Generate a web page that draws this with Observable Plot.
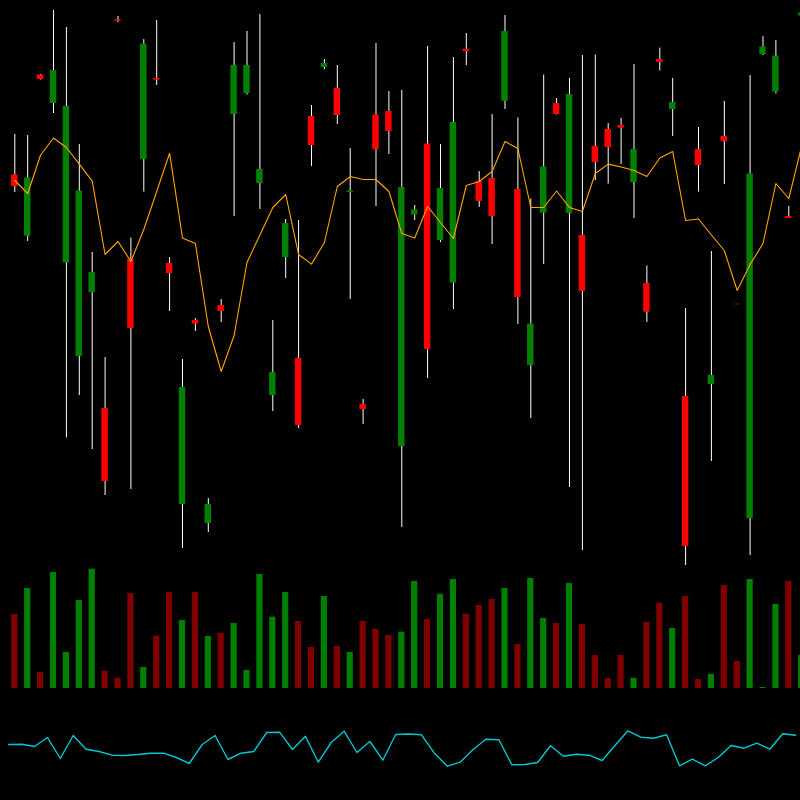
<!DOCTYPE html>
<html>
<head>
<meta charset="utf-8">
<script src="https://cdn.jsdelivr.net/npm/d3@7"></script>
<script src="https://cdn.jsdelivr.net/npm/@observablehq/plot@0.6"></script>
<style>
  html, body { margin: 0; padding: 0; background: #000; }
  #chart { width: 800px; height: 800px; background: #000; overflow: hidden; }
  #chart svg { display: block; }
</style>
</head>
<body>
<div id="chart"></div>
<script>
// ---- data (no axes shown; units are relative) ----
const openP  = [425.5,364.4,525.5,497,337.5,244,308,192,581,341,441,522.2,337,96,280,77,295,486,507,417,205,343,242,484,533,512,408,196,485.5,489,154,385.5,456.4,360,317.5,551.3,419,422,499.3,411,235,387.3,497,387,365,454,471,475,418,317,541,491,204,451,216,464,296.2,82,546,508.4,384,584.5];
const highP  = [466,465,526,590,573,456,348,243,584,362.5,561,580,343,241,282,102,301,558,569,586,280,381,380,495,541,535,452,201,557,509,510,395,554,456,543,567,429,486,585,482.5,401.5,525.5,502,522,545,545.5,477,482,536,334.5,552.4,522,292,473,349,499,296.2,525,564,560,394,589];
const lowP   = [408,359,520.5,487,162.5,205,151,105,578,111,408.4,515,289,52,269,68,278,384,505.5,391,189,322,172,434,531,476,301,176,394,446,73,380,222,358,291,535,393,356,491,276,182,336,485.5,113,50,420,416.4,436,382,278,529.5,464,35,408.4,139,416,295.8,45,545,506.5,382,583];
const closeP = [414,422.5,521,530,494,409.5,328,119,579.5,272,556.4,520.4,327,213,276.4,96,289,535,535,431,228,377,175,455,537,485,409.5,191,451,469,413,390.5,251,412,478,549,399,384,569,303,276.4,433.5,486,506,309,438,453,472.4,451,288.4,538,498,54,435,225,459,295.8,426.5,553.5,544.4,382,587.5];
const volume = [74,100,16,116,36,88,119.3,17.3,10.3,95,21,52.3,96,68,96,52,55.3,65,18,114,71.3,96,67,41,92,42,36,67,59,53,56.3,107,69,94,109,74.3,83,89,100,44,110,70,65,105,64,33,10,33,10.3,66.3,85.3,60,92,9,14,103,27,109,1,84,107,33];
const maLine = [420,407,445.5,462.5,453,436.4,419.3,346,359,339,371,409,447.3,362.5,357,274,229,265,338,365.5,393,406,346,336.4,358,414,424,421,421,409,367,362.5,394,378,362,415,419,429,459,452,393,393,409.5,393,389,427,436.4,433.5,430,424,442.5,449,380,381.5,365.5,350,310,336,357,417,402,454.5];
const oscLine = [36,36.3,34,43,22,45,31.3,29,25.3,25,26,27.3,27.3,23,17,36,45,21,27.3,29,48,48.3,31,44.3,18.3,38,49.3,28,39,20.3,46,46.5,45.7,27.3,14.3,18.3,31,41.3,40.7,15.7,16,18,34.7,24.3,26.3,25.3,20,35,49.7,43.3,42.3,45.7,14.7,21.3,14.7,23,35,32.3,37.3,31.3,46.7,45.3];

const bars = openP.map((o, i) => ({
  i, open: o, high: highP[i], low: lowP[i], close: closeP[i],
  vol: volume[i], ma: maLine[i], osc: oscLine[i], up: closeP[i] >= o
}));

const xMain = {domain: [-1.1085, 60.907], axis: null};
const xOsc  = {domain: [-0.6357, 61.380], axis: null};

const candle = Plot.plot({
  width: 800, height: 566,
  marginTop: 0, marginBottom: 0, marginLeft: 0, marginRight: 0,
  style: {background: "#000"},
  x: xMain,
  y: {domain: [34, 600], axis: null},
  marks: [
    Plot.ruleX(bars, {x: "i", y1: "low", y2: "high", stroke: "#ffffff", strokeWidth: 1}),
    Plot.rect(bars, {
      x1: d => d.i - 0.25, x2: d => d.i + 0.25,
      y1: "open", y2: "close",
      fill: d => d.up ? "#008000" : "#ff0000"
    }),
    Plot.line(bars, {x: "i", y: "ma", stroke: "#ffa500", strokeWidth: 1.1})
  ]
});

const vol = Plot.plot({
  width: 800, height: 124,
  marginTop: 0, marginBottom: 2, marginLeft: 0, marginRight: 0,
  style: {background: "#000"},
  x: xMain,
  y: {domain: [0, 122], axis: null},
  marks: [
    Plot.rect(bars, {
      x1: d => d.i - 0.24, x2: d => d.i + 0.24,
      y1: 0, y2: "vol",
      fill: d => d.up ? "#008000" : "#800000"
    })
  ]
});

const osc = Plot.plot({
  width: 800, height: 110,
  marginTop: 0, marginBottom: 20, marginLeft: 0, marginRight: 0,
  style: {background: "#000"},
  x: xOsc,
  y: {domain: [0, 90], axis: null},
  marks: [
    Plot.line(bars, {x: "i", y: "osc", stroke: "#00c8d0", strokeWidth: 1.4})
  ]
});

const root = document.getElementById("chart");
root.append(candle, vol, osc);
</script>
</body>
</html>
